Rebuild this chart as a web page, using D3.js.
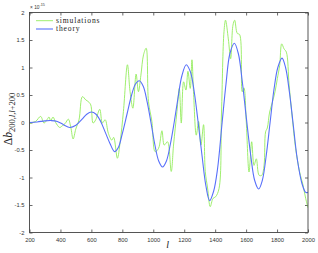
<!DOCTYPE html>
<html><head><meta charset="utf-8">
<script src="https://cdn.jsdelivr.net/npm/d3@7"></script>
<style>html,body{margin:0;padding:0;background:#fff;}svg{display:block;}</style>
</head><body>
<script>
// ---- data ----
const xTicks = [200,400,600,800,1000,1200,1400,1600,1800,2000];
const yTicks = [-2,-1.5,-1,-0.5,0,0.5,1,1.5,2];
const yTickLabels = ["-2","-1.5","-1","-0.5","0","0.5","1","1.5","2"];
const seriesNames = ["simulations","theory"];

const simL = [200,218,240,272,294,315,326,337,352,369,395,412,430,451,467,482,499,520,542,564,580,596,611,628,654,671,689,710,732,744,768,786,807,833,850,868,889,904,920,937,954,969,991,1012,1034,1056,1071,1092,1116,1131,1153,1168,1181,1196,1211,1224,1239,1250,1260,1278,1293,1308,1325,1336,1351,1368,1386,1403,1425,1441,1457,1467,1485,1500,1515,1526,1543,1558,1575,1586,1601,1619,1636,1651,1666,1684,1701,1716,1726,1737,1752,1770,1787,1802,1817,1830,1845,1860,1878,1899,1920,1946,1968,1985,2000];
const simV = [-0.03,0.0,0.02,0.11,-0.01,0.06,0.10,0.03,0.10,0.0,-0.09,-0.06,-0.02,0.06,-0.09,-0.30,-0.12,0.05,0.47,0.41,0.38,0.32,-0.01,0.05,0.24,-0.01,0.05,-0.2,-0.32,-0.27,-0.65,-0.35,0.2,1.05,0.56,0.26,0.88,0.56,0.86,1.23,1.35,0.38,0.02,-0.53,-0.47,-0.15,-0.41,-0.35,-0.89,-0.41,0.2,0.62,-0.01,0.74,0.59,0.93,0.62,1.14,0.56,-0.23,0.02,-0.41,-0.04,-0.89,-1.19,-1.53,-1.38,-1.35,-1.2,0.19,1.65,1.86,1.52,1.16,1.77,1.86,1.62,1.6,0.56,0.63,0.01,-0.9,-0.35,-0.78,-0.66,-0.96,-0.96,-0.78,-0.17,-0.1,0.19,0.37,0.56,0.80,1.04,1.43,1.34,1.28,0.68,0.07,-0.47,-0.9,-1.14,-1.38,-1.55];

const thL = [200,250,300,340,380,420,460,500,540,570,600,630,660,690,720,750,775,800,830,860,885,909,935,960,985,1010,1035,1060,1085,1110,1135,1160,1185,1213,1240,1265,1290,1315,1340,1364,1390,1415,1445,1470,1495,1524,1550,1575,1600,1630,1655,1681,1705,1730,1755,1780,1805,1832,1855,1880,1905,1930,1960,1985,2000];
const thV = [0,0.01,0.03,0.035,0.02,-0.04,-0.09,-0.05,0.06,0.15,0.19,0.15,0.02,-0.18,-0.38,-0.53,-0.45,-0.2,0.15,0.5,0.7,0.76,0.66,0.38,0.0,-0.4,-0.7,-0.81,-0.7,-0.4,0.0,0.45,0.85,1.05,0.92,0.55,0.0,-0.6,-1.15,-1.42,-1.25,-0.85,0.0,0.7,1.25,1.44,1.25,0.75,0.12,-0.6,-1.05,-1.21,-1.05,-0.6,0.0,0.6,1.0,1.17,1.0,0.55,-0.05,-0.65,-1.1,-1.27,-1.27];

// ---- drawing ----
const W = 318, H = 253;
const m = {left: 29.5, right: 308, top: 12.5, bottom: 232.5};
const svg = d3.select("body").append("svg").attr("width", W).attr("height", H);

const x = d3.scaleLinear().domain([200, 2000]).range([m.left, m.right]);
const y = d3.scaleLinear().domain([-2, 2]).range([m.bottom, m.top]);

const tickLen = 3;
const axCol = "#444";
const fontTick = "Liberation Sans, Arial, sans-serif";

svg.append("clipPath").attr("id","clip").append("rect")
  .attr("x", m.left).attr("y", m.top).attr("width", m.right - m.left).attr("height", m.bottom - m.top);

const xAxB = d3.axisBottom(x).tickValues(xTicks).tickSize(-tickLen).tickPadding(5).tickFormat(d3.format("d"));
const xAxT = d3.axisTop(x).tickValues(xTicks).tickSize(-tickLen).tickFormat("");
const yAxL = d3.axisLeft(y).tickValues(yTicks).tickSize(-tickLen).tickPadding(5).tickFormat((d,i)=>yTickLabels[i]);
const yAxR = d3.axisRight(y).tickValues(yTicks).tickSize(-tickLen).tickFormat("");

function style(g){
  g.select(".domain").remove();
  g.selectAll(".tick line").attr("stroke", axCol).attr("stroke-width", 0.8);
  g.selectAll(".tick text").attr("fill", "#333").attr("font-family", fontTick).attr("font-size", 5.8);
}
svg.append("g").attr("transform", `translate(0,${m.bottom})`).call(xAxB).call(style);
svg.append("g").attr("transform", `translate(0,${m.top})`).call(xAxT).call(style);
svg.append("g").attr("transform", `translate(${m.left},0)`).call(yAxL).call(style);
svg.append("g").attr("transform", `translate(${m.right},0)`).call(yAxR).call(style);

const simData = simL.map((l,i)=>({l, v: simV[i]}));
const thData = thL.map((l,i)=>({l, v: thV[i]}));
const line = d3.line().x(d=>x(d.l)).y(d=>y(d.v)).curve(d3.curveCatmullRom.alpha(0.5));

const plot = svg.append("g").attr("clip-path","url(#clip)");
plot.append("path").datum(simData).attr("d", line)
  .attr("fill","none").attr("stroke","#94ec5e").attr("stroke-width",0.9);
plot.append("path").datum(thData).attr("d", line)
  .attr("fill","none").attr("stroke","#5870fa").attr("stroke-width",1.1);

svg.append("rect").attr("x", m.left).attr("y", m.top)
  .attr("width", m.right - m.left).attr("height", m.bottom - m.top)
  .attr("fill","none").attr("stroke", axCol).attr("stroke-width", 0.9);

const ex = svg.append("text").attr("x", m.left + 0.5).attr("y", 8.5)
  .attr("font-family", fontTick).attr("font-size", 4.8).attr("fill","#333");
ex.append("tspan").text("× 10");
ex.append("tspan").attr("dy", -2.5).attr("font-size", 3.8).text("-15");

const legFont = "Liberation Serif, Times New Roman, serif";
const legY = [20.7, 29];
const legCol = ["#94ec5e", "#5870fa"];
seriesNames.forEach((s,i)=>{
  svg.append("line").attr("x1", 36).attr("x2", 53).attr("y1", legY[i]).attr("y2", legY[i])
    .attr("stroke", legCol[i]).attr("stroke-width", i ? 1.1 : 0.9);
  svg.append("text").attr("x", 56).attr("y", legY[i] + 2.4)
    .attr("font-family", legFont).attr("font-size", 7.6).attr("letter-spacing", 0.85)
    .attr("fill","#222").text(s);
});

svg.append("text").attr("x", x(1100) - 1).attr("y", 248)
  .attr("font-family","Liberation Serif, Times New Roman, serif").attr("font-style","italic")
  .attr("font-size", 10).attr("fill","#222").attr("text-anchor","middle").text("l");

const yl = svg.append("text").attr("transform", `translate(11.5,119) rotate(-90)`)
  .attr("text-anchor","middle").attr("font-family","Liberation Serif, Times New Roman, serif")
  .attr("fill","#222").attr("font-size", 11.5);
yl.append("tspan").text("Δ");
yl.append("tspan").attr("font-style","italic").text("b");
const sub = yl.append("tspan").attr("dy", 3).attr("font-size", 8.5);
sub.append("tspan").text("200,");
sub.append("tspan").attr("font-style","italic").text("l");
sub.append("tspan").text(",");
sub.append("tspan").attr("font-style","italic").text("l");
sub.append("tspan").text("+200");
</script>
</body></html>
